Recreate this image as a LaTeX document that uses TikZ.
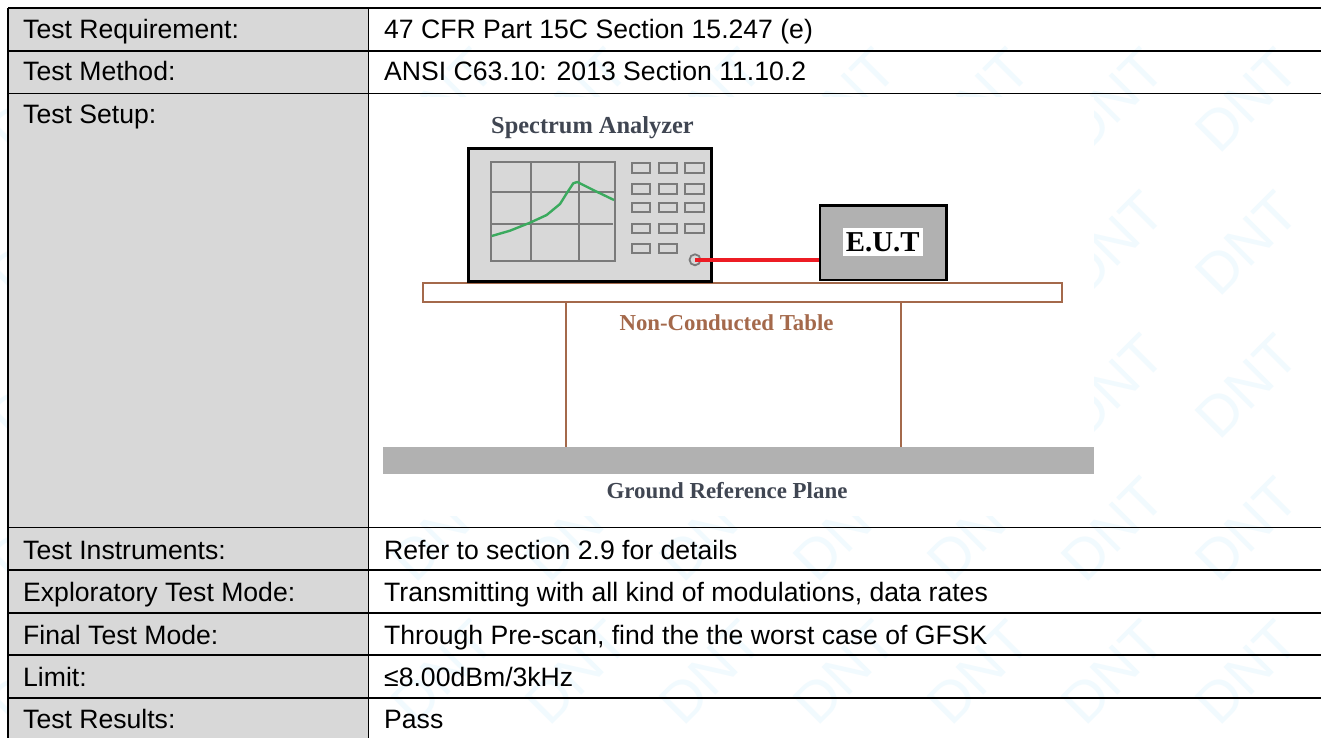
\documentclass[tikz,border=0pt]{standalone}
\usepackage{fontspec}
\setmainfont{Liberation Sans}
\newfontfamily\serifbold[BoldFont=Liberation Serif Bold]{Liberation Serif}
\definecolor{cellgrey}{HTML}{D8D8D8}
\definecolor{wmblue}{HTML}{F1FAFE}
\definecolor{brownline}{HTML}{A4694B}
\definecolor{gridgrey}{HTML}{7A7A7A}
\definecolor{planegrey}{HTML}{B1B1B1}
\definecolor{slatetext}{HTML}{404652}
\definecolor{cablered}{HTML}{ED1C24}
\definecolor{traceg}{HTML}{3BAA5E}
\tikzset{
  watermark/.style={rotate=45,text=wmblue,inner sep=0pt,font=\fontsize{57}{60}\selectfont},
  celltext/.style={anchor=base west,inner sep=0pt,font=\fontsize{26.6}{30}\selectfont},
  ruleline/.style={black,line width=1.6pt},
  keybtn/.style={draw=gridgrey,line width=2pt},
  scrline/.style={draw=gridgrey,line width=2pt},
  figcap/.style={inner sep=0pt,font=\serifbold\bfseries\fontsize{#1}{26}\selectfont},
  tableboard/.style={draw=brownline,line width=2pt,fill=white,minimum width=639pt,minimum height=19pt,inner sep=0pt},
  legline/.style={brownline,line width=2.2pt},
}
\begin{document}
\begin{tikzpicture}[x=1pt,y=-1pt]
\useasboundingbox (0,0) rectangle (1321,738);
\fill[white] (0,0) rectangle (1321,738);
% watermark
\foreach \k in {0,...,9}{
  \foreach \j in {-1,...,4}{
    \node[watermark] (wm\k x\j) at ({1247-134*\k},{243+143*\j}) {DNT};
  }
}
% left column and figure backdrop
\fill[cellgrey] (8,8) rectangle (368.5,738);
\fill[white] (380,97) rectangle (1094,516);
% table rules
\foreach \y in {8,51,93.5,527.5,570,612.7,655,698}{
  \draw[ruleline] (8,\y) -- (1321,\y);
}
\draw[ruleline] (8,8) -- (8,738);
\draw[ruleline] (368.5,8) -- (368.5,738);
% table text
\node[celltext] (l1) at (23,38.5) {Test Requirement:};
\node[celltext] (l2) at (23,81) {Test Method:};
\node[celltext] (l3) at (23,123.5) {Test Setup:};
\node[celltext] (l4) at (23,559.3) {Test Instruments:};
\node[celltext] (l5) at (23,601.7) {Exploratory Test Mode:};
\node[celltext] (l6) at (23,644) {Final Test Mode:};
\node[celltext] (l7) at (23,686.7) {Limit:};
\node[celltext] (l8) at (23,728.5) {Test Results:};
\node[celltext] (r1) at (384,38.5) {47 CFR Part 15C Section 15.247 (e)};
\node[celltext] (r2) at (384,81) {ANSI C63.10: 2013 Section 11.10.2};
\node[celltext] (r4) at (384,559.3) {Refer to section 2.9 for details};
\node[celltext] (r5) at (384,601.7) {Transmitting with all kind of modulations, data rates};
\node[celltext] (r6) at (384,644) {Through Pre-scan, find the the worst case of GFSK};
\node[celltext] (r7) at (384,686.7) {≤8.00dBm/3kHz};
\node[celltext] (r8) at (384,728.5) {Pass};
% ground plane
\node[fill=planegrey,minimum width=711pt,minimum height=27pt,inner sep=0pt] (plane) at (738.5,460.8) {};
\node[figcap=22.9,text=slatetext] (planecap) at (727,491) {Ground Reference Plane};
% table board and legs
\node[tableboard] (board) at (742.3,292.6) {};
\coordinate (legA) at (565.6,375);
\coordinate (legB) at (900.8,375);
\draw[legline] (board.south -| legA) -- (legA |- plane.north);
\draw[legline] (board.south -| legB) -- (legB |- plane.north);
\node[figcap=22.8,text=brownline] (boardcap) at (726.5,323) {Non-Conducted Table};
% spectrum analyzer
\node[figcap=24.4,text=slatetext] (sacap) at (592.5,128) {Spectrum Analyzer};
\node[draw=black,line width=3.4pt,fill=cellgrey,minimum width=243pt,minimum height=132.5pt,inner sep=0pt] (sa) at (590.2,215) {};
\draw[scrline] (490.7,162.3) rectangle (615,260.7);
\draw[scrline] (530.7,162.3) -- (530.7,260.7);
\draw[scrline] (579,162.3) -- (579,260.7);
\draw[scrline] (490,192) -- (615,192);
\draw[scrline] (490.7,224) -- (613,224);
\draw[traceg,line width=2.4pt,line join=round] (491.7,236) -- (510,230.7) -- (530,222.7) -- (546.7,215) -- (560,204) -- (566.7,193.3) -- (573.3,183.3) -- (577.3,182) -- (596.7,191.7) -- (614,200);
\foreach \y/\yy in {163.3/172.7,184.3/193.7,203/212.3,224/233.3}{
  \foreach \x/\xx in {631.7/650.3,658.7/677.3,685.3/704}{
    \draw[keybtn] (\x,\y) rectangle (\xx,\yy);
  }
}
\foreach \x/\xx in {631.7/650.3,658.7/677.3}{
  \draw[keybtn] (\x,243.7) rectangle (\xx,253);
}
\node[circle,draw=gridgrey,line width=1.8pt,minimum size=11pt,inner sep=0pt] (port) at (695,259.8) {};
% E.U.T
\node[draw=black,line width=2.4pt,fill=planegrey,minimum width=126.5pt,minimum height=74.5pt,inner sep=0pt] (eut) at (883.3,242.7) {};
\node[fill=white,minimum width=80pt,minimum height=28.5pt,inner sep=0pt,figcap=28.8,text=black] (eutlab) at (882.7,241.9) {E.U.T};
% cable
\draw[cablered,line width=4.4pt] (port.center) -- (port.center -| eut.west);
\end{tikzpicture}
\end{document}
